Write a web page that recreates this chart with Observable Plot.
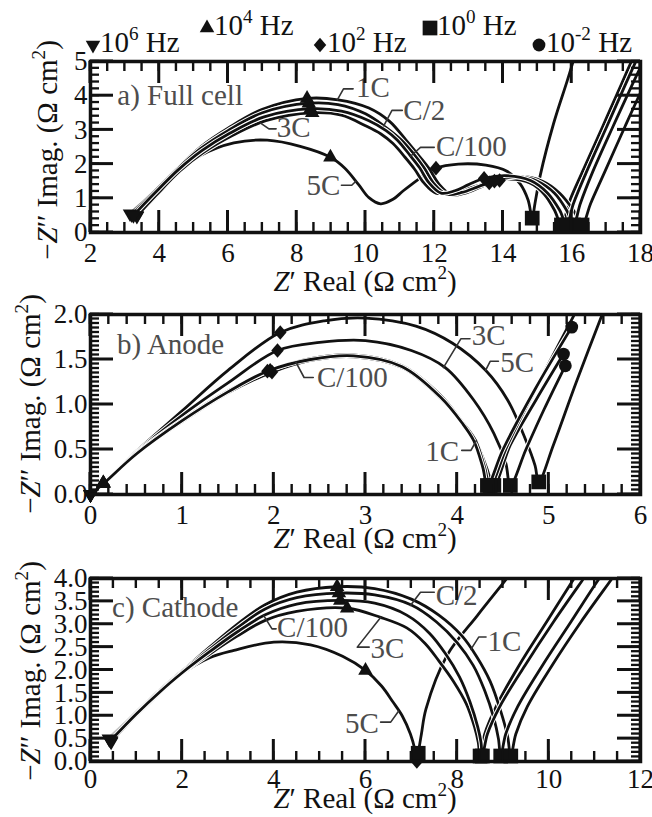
<!DOCTYPE html>
<html lang="en">
<head>
<meta charset="utf-8">
<title>Impedance spectra: full cell, anode, cathode</title>
<script src="https://cdn.jsdelivr.net/npm/d3@7"></script>
<script src="https://cdn.jsdelivr.net/npm/@observablehq/plot@0.6"></script>
<style>
  html, body { margin: 0; padding: 0; background: #fff; }
  #figure { position: relative; width: 652px; height: 817px; overflow: hidden; background: #fff;
            font-family: "Liberation Serif", "Times New Roman", Times, serif; color: #111; }
  #figure > svg { position: absolute; left: 0; }
  .txt { position: absolute; white-space: nowrap; line-height: 1; }
  .ytitle { transform: translate(-50%, -50%) rotate(-90deg); }
  .xtitle { transform: translateX(-50%); }
  .txt sup { font-size: 0.66em; line-height: 0; vertical-align: 0.62em; }
</style>
</head>
<body>
<div id="figure"></div>
<script>
// Each spectrum: [Z' real, -Z'' imag, frequency tag]; tag marks 1e6 / 1e4 / 1e2 / 1e0 / 1e-2 Hz points.

// ---- a) Full cell ----
const fullCell5C = [[3.35,0.5,"6"],[3.9,1.05],[4.6,1.8],[5.2,2.25],[6.17,2.62],[7.14,2.7],[8.1,2.52],[8.98,2.2,"4"],[9.4,1.88],[9.8,1.4],[10.1,1.02],[10.44,0.84],[10.8,0.97],[11.1,1.22],[11.6,1.6],[12.05,1.88,"2"],[12.7,2.0],[13.5,1.97],[14.1,1.8],[14.5,1.42],[14.73,0.95],[14.85,0.42,"0"],[14.93,0.85],[15.09,1.7],[15.47,3.18],[15.87,4.44],[16.07,5.1]];
const fullCell3C = [[3.35,0.48,"6"],[3.9,1.08],[4.6,1.8],[5.3,2.35],[6.1,2.82],[7.1,3.27],[8.45,3.5,"4"],[9.3,3.43],[10.0,3.12],[10.45,2.88],[10.8,2.6],[11.15,2.2],[11.43,1.85],[11.7,1.45],[12.05,1.15],[12.5,1.18],[13.0,1.3],[13.6,1.45,"2"],[14.2,1.56],[14.8,1.44],[15.2,1.12],[15.5,0.65],[15.7,0.22,"0"],[15.95,0.95],[16.3,1.75],[16.9,3.1],[17.45,4.35],[17.8,5.15]];
const fullCell1C = [[3.15,0.55,"6"],[3.8,1.15],[4.5,1.85],[5.2,2.5],[6.0,3.05],[7.0,3.6],[8.3,3.92,"4"],[9.2,3.88],[10.1,3.64],[10.7,3.25],[11.18,2.7],[11.55,2.25],[11.83,1.9],[12.15,1.4],[12.5,1.1],[12.9,1.15],[13.4,1.35],[13.9,1.52,"2"],[14.5,1.64],[15.15,1.5],[15.65,1.15],[16.05,0.65],[16.3,0.22,"0"],[16.55,0.85],[16.95,1.75],[17.55,3.1],[18.1,4.3],[18.5,5.1]];
const fullCellC2 = [[3.2,0.52,"6"],[3.8,1.13],[4.5,1.83],[5.2,2.45],[6.0,2.98],[7.0,3.5],[8.35,3.78,"4"],[9.2,3.74],[10.0,3.47],[10.6,3.07],[11.05,2.7],[11.4,2.3],[11.7,1.9],[12.0,1.42],[12.35,1.12],[12.8,1.17],[13.3,1.35],[13.75,1.5,"2"],[14.4,1.63],[15.0,1.5],[15.5,1.15],[15.85,0.65],[16.05,0.22,"0"],[16.25,0.85],[16.6,1.75],[17.2,3.1],[17.75,4.3],[18.15,5.15]];
const fullCellC100 = [[3.25,0.5,"6"],[3.85,1.13],[4.55,1.83],[5.25,2.4],[6.05,2.9],[7.05,3.38],[8.4,3.62,"4"],[9.3,3.55],[10.1,3.27],[10.6,2.98],[10.93,2.7],[11.3,2.25],[11.57,1.9],[11.85,1.45],[12.2,1.15],[12.6,1.22],[13.0,1.4],[13.45,1.58,"2"],[14.1,1.66],[14.8,1.52],[15.3,1.15],[15.65,0.65],[15.85,0.22,"0"],[16.05,0.85],[16.42,1.75],[17.02,3.1],[17.55,4.3],[17.93,5.15]];

// ---- b) Anode ----
const anode5C = [[0,0,"6"],[0.14,0.13,"4"],[0.5,0.48],[1.0,0.93],[1.5,1.38],[2.07,1.8,"2"],[2.55,1.93],[3.0,1.96],[3.55,1.87],[3.95,1.68],[4.31,1.38],[4.55,1.05],[4.75,0.6],[4.85,0.32],[4.89,0.14,"0"],[5.05,0.55],[5.3,1.25],[5.62,2.1]];
const anode3C = [[0,0,"6"],[0.14,0.13,"4"],[0.5,0.47],[1.0,0.88],[1.5,1.24],[2.04,1.6,"2"],[2.5,1.69],[3.0,1.71],[3.5,1.6],[3.87,1.41],[4.18,1.05],[4.4,0.68],[4.53,0.35],[4.58,0.1,"0"],[4.75,0.5],[4.95,0.95],[5.18,1.43,"-2"]];
const anode1C = [[0,0,"6"],[0.14,0.12,"4"],[0.5,0.45],[1.0,0.81],[1.5,1.13],[1.98,1.36,"2"],[2.4,1.49],[2.87,1.53],[3.4,1.41],[3.82,1.07],[4.07,0.78],[4.21,0.58],[4.32,0.3],[4.4,0.1,"0"],[4.58,0.55],[4.86,1.05],[5.16,1.56,"-2"]];
const anodeC2 = [[0,0,"6"],[0.14,0.12,"4"],[0.5,0.46],[1.0,0.83],[1.5,1.15],[1.96,1.38,"2"],[2.4,1.51],[2.87,1.55],[3.4,1.43],[3.82,1.1],[4.06,0.8],[4.2,0.6],[4.3,0.3],[4.36,0.1,"0"],[4.55,0.55],[4.92,1.3],[5.32,2.08]];
const anodeC100 = [[0,0,"6"],[0.14,0.12,"4"],[0.5,0.45],[1.0,0.82],[1.5,1.14],[1.93,1.37,"2"],[2.4,1.5],[2.87,1.54],[3.4,1.42],[3.82,1.08],[4.05,0.8],[4.18,0.6],[4.28,0.3],[4.33,0.1,"0"],[4.5,0.5],[4.85,1.17],[5.25,1.86,"-2"]];

// ---- c) Cathode ----
const cathode5C = [[0.45,0.45,"6"],[1.0,1.0],[1.5,1.48],[2.0,1.92],[2.6,2.27],[3.13,2.43],[4.0,2.61],[4.8,2.55],[5.5,2.3],[6.0,1.99,"4"],[6.35,1.65],[6.6,1.3],[6.8,1.0],[6.98,0.6],[7.08,0.25],[7.12,0.0,"2"],[7.15,0.18,"0"],[7.22,0.6],[7.32,1.15],[7.78,2.32],[8.44,3.19],[9.02,3.92],[9.12,4.05]];
const cathode3C = [[0.45,0.43,"6"],[1.0,1.02],[1.5,1.5],[2.0,1.93],[2.6,2.35],[3.2,2.74],[3.8,3.08],[4.5,3.28],[5.6,3.35,"4"],[6.33,3.15],[6.9,2.92],[7.3,2.58],[7.6,2.2],[7.92,1.75],[8.2,1.26],[8.38,0.75],[8.46,0.42],[8.5,0.12,"0"],[8.6,0.6],[8.85,1.2],[9.35,2.1],[9.95,3.05],[10.55,4.0],[10.68,4.2]];
const cathode1C = [[0.4,0.5,"6"],[1.0,1.08],[1.5,1.55],[2.0,1.98],[2.6,2.5],[3.2,3.0],[3.8,3.42],[4.5,3.7],[5.38,3.82,"4"],[6.2,3.78],[7.0,3.55],[7.6,3.2],[8.1,2.75],[8.42,2.3],[8.72,1.75],[8.95,1.1],[9.1,0.55],[9.17,0.12,"0"],[9.28,0.6],[9.53,1.2],[10.07,2.1],[10.7,3.05],[11.38,4.0],[11.52,4.2]];
const cathodeC2 = [[0.42,0.48,"6"],[1.0,1.06],[1.5,1.53],[2.0,1.96],[2.6,2.45],[3.2,2.92],[3.8,3.33],[4.5,3.58],[5.42,3.68,"4"],[6.2,3.64],[7.0,3.42],[7.55,3.05],[8.0,2.6],[8.35,2.1],[8.6,1.55],[8.8,0.95],[8.9,0.5],[8.95,0.12,"0"],[9.06,0.6],[9.32,1.2],[9.86,2.1],[10.48,3.05],[11.1,4.0],[11.25,4.2]];
const cathodeC100 = [[0.44,0.46,"6"],[1.0,1.04],[1.5,1.51],[2.0,1.94],[2.6,2.4],[3.2,2.83],[3.8,3.2],[4.5,3.44],[5.45,3.52,"4"],[6.2,3.46],[6.9,3.2],[7.4,2.8],[7.75,2.35],[8.05,1.85],[8.28,1.3],[8.45,0.75],[8.52,0.42],[8.55,0.12,"0"],[8.66,0.6],[8.93,1.2],[9.48,2.1],[10.1,3.05],[10.76,4.0],[10.9,4.2]];

// ---- annotations: C-rate labels and their leader lines ----
const fullCellNotes = [
  {text: "a) Full cell", x: 2.78, y: 3.99, anchor: "start"},
  {text: "1C", x: 9.72, y: 4.22, anchor: "start"},
  {text: "C/2", x: 11.1, y: 3.55, anchor: "start"},
  {text: "C/100", x: 12.05, y: 2.5, anchor: "start"},
  {text: "3C", x: 7.42, y: 3.05, anchor: "start"},
  {text: "5C", x: 9.27, y: 1.38, anchor: "end"}
];
const fullCellLeaders = [
  [[9.18,3.88],[9.36,4.2],[9.64,4.2]],
  [[10.53,3.12],[10.77,3.57],[11.07,3.57]],
  [[11.31,2.23],[11.6,2.49],[12.0,2.49]],
  [[6.95,3.2],[7.19,3.03],[7.4,3.03]],
  [[9.3,1.38],[9.6,1.38],[9.72,1.5]]
];
const anodeNotes = [
  {text: "b) Anode", x: 0.29, y: 1.66, anchor: "start"},
  {text: "C/100", x: 2.47, y: 1.3, anchor: "start"},
  {text: "3C", x: 4.16, y: 1.76, anchor: "start"},
  {text: "5C", x: 4.47, y: 1.46, anchor: "start"},
  {text: "1C", x: 4.02, y: 0.48, anchor: "end"}
];
const anodeLeaders = [
  [[2.24,1.47],[2.33,1.3],[2.43,1.3]],
  [[3.85,1.41],[4.04,1.73],[4.14,1.73]],
  [[4.31,1.38],[4.36,1.48],[4.45,1.48]],
  [[4.05,0.49],[4.15,0.49],[4.21,0.6]]
];
const cathodeNotes = [
  {text: "c) Cathode", x: 0.47, y: 3.37, anchor: "start"},
  {text: "C/2", x: 7.53, y: 3.62, anchor: "start"},
  {text: "1C", x: 8.66, y: 2.62, anchor: "start"},
  {text: "3C", x: 6.11, y: 2.47, anchor: "start"},
  {text: "C/100", x: 4.07, y: 2.92, anchor: "start"},
  {text: "5C", x: 6.29, y: 0.82, anchor: "end"}
];
const cathodeLeaders = [
  [[6.98,3.41],[7.2,3.7],[7.5,3.7]],
  [[8.3,2.45],[8.47,2.72],[8.63,2.72]],
  [[6.33,3.15],[5.82,2.5],[6.08,2.5]],
  [[3.78,3.19],[3.96,2.9],[4.05,2.9]],
  [[6.33,0.86],[6.55,0.86],[6.72,1.1]]
];

// ---- axis ticks ----
const fullCellXTicks = [2, 4, 6, 8, 10, 12, 14, 16, 18];
const fullCellYTicks = [0, 1, 2, 3, 4, 5];
const anodeXTicks = [0, 1, 2, 3, 4, 5, 6];
const anodeYTicks = [0, 0.5, 1.0, 1.5, 2.0];
const cathodeXTicks = [0, 2, 4, 6, 8, 10, 12];
const cathodeYTicks = [0, 0.5, 1.0, 1.5, 2.0, 2.5, 3.0, 3.5, 4.0];

// ---- frequency legend ----
const freqCodes = ["6", "4", "2", "0", "-2"];

const INK = "#111";
const NOTE = "#4d4d4d";
const FONT = "'Liberation Serif', 'Times New Roman', Times, serif";

// Marker shapes (drawn from an area, like d3 symbols)
const triangleUp = {draw(ctx, size) {
  const a = Math.sqrt(size * 4 / Math.sqrt(3)), h = a * Math.sqrt(3) / 2;
  ctx.moveTo(0, -2 * h / 3); ctx.lineTo(a / 2, h / 3); ctx.lineTo(-a / 2, h / 3); ctx.closePath();
}};
const triangleDown = {draw(ctx, size) {
  const a = Math.sqrt(size * 4 / Math.sqrt(3)), h = a * Math.sqrt(3) / 2;
  ctx.moveTo(0, 2 * h / 3); ctx.lineTo(a / 2, -h / 3); ctx.lineTo(-a / 2, -h / 3); ctx.closePath();
}};
const rhombus = {draw(ctx, size) {
  const hh = Math.sqrt(size / (2 * 0.85)), hw = 0.85 * hh;
  ctx.moveTo(0, -hh); ctx.lineTo(hw, 0); ctx.lineTo(0, hh); ctx.lineTo(-hw, 0); ctx.closePath();
}};
const markerStyle = {
  "6": {symbol: triangleDown, r: 5.4},
  "4": {symbol: triangleUp, r: 5.4},
  "2": {symbol: rhombus, r: 5.4},
  "0": {symbol: d3.symbolSquare, r: 8.3},
  "-2": {symbol: d3.symbolCircle, r: 6.4}
};

const fig = document.getElementById("figure");
const LEFT = 90, RIGHT = 12, WIDTH = 652;

function nyquistPanel(cfg) {
  const X = d => d[0], Y = d => d[1];
  const marks = [];

  // spectra: a thin white casing keeps overlapping curves distinguishable
  for (const s of cfg.series) {
    marks.push(Plot.line(s, {x: X, y: Y, curve: "catmull-rom", stroke: "#fff", strokeWidth: 4.8, clip: true}));
    marks.push(Plot.line(s, {x: X, y: Y, curve: "catmull-rom", stroke: INK, strokeWidth: 2.8, clip: true}));
  }

  // leader lines and C-rate labels
  cfg.leaders.forEach(l => marks.push(Plot.line(l, {x: X, y: Y, stroke: "#333", strokeWidth: 1.6})));
  for (const anchor of ["start", "end"]) {
    marks.push(Plot.text(cfg.notes.filter(n => n.anchor === anchor), {x: "x", y: "y", text: "text",
      textAnchor: anchor, fill: NOTE, fontSize: 29, lineAnchor: "middle"}));
  }

  // frequency markers
  const tagged = cfg.series.flatMap(s => s.filter(p => p[2] !== undefined));
  for (const code of freqCodes) {
    const pts = tagged.filter(p => p[2] === code);
    if (pts.length) marks.push(Plot.dot(pts, {x: X, y: Y, symbol: markerStyle[code].symbol,
      r: markerStyle[code].r, fill: INK, stroke: "none"}));
  }

  marks.push(Plot.frame({stroke: INK, strokeWidth: 3.5}));
  marks.push(Plot.axisX({ticks: cfg.xMajor, anchor: "bottom", tickSize: 0, tickPadding: cfg.xPad,
    tickFormat: d => String(d), fontSize: 27, label: null}));
  marks.push(Plot.axisY({ticks: cfg.yMajor, anchor: "left", tickSize: 0, tickPadding: 3,
    tickFormat: cfg.yFormat, fontSize: 27, label: null}));

  const svg = Plot.plot({
    width: WIDTH, height: cfg.height,
    marginLeft: LEFT, marginRight: RIGHT, marginTop: cfg.marginTop, marginBottom: cfg.marginBottom,
    x: {domain: cfg.xDomain}, y: {domain: cfg.yDomain},
    style: {fontFamily: FONT, fontSize: "27px", background: "transparent", overflow: "visible", color: INK},
    marks
  });
  svg.style.top = cfg.top + "px";
  fig.appendChild(svg);

  // inward comb ticks on all four edges, placed with the plot's own x and y scales
  const sx = svg.scale("x").apply, sy = svg.scale("y").apply;
  const [xa, xb] = cfg.xDomain.map(sx), [ya, yb] = cfg.yDomain.map(sy);   // ya = bottom, yb = top
  const g = d3.select(svg).append("g").attr("aria-label", "comb ticks").attr("fill", INK);
  const comb = (vals, len, w, axis) => {
    for (const v of vals) {
      if (axis === "x") {
        const p = sx(v) - w / 2;
        g.append("rect").attr("x", p).attr("width", w).attr("y", ya - len).attr("height", len);
        g.append("rect").attr("x", p).attr("width", w).attr("y", yb).attr("height", len);
      } else {
        const p = sy(v) - w / 2;
        g.append("rect").attr("y", p).attr("height", w).attr("x", xa).attr("width", len);
        g.append("rect").attr("y", p).attr("height", w).attr("x", xb - len).attr("width", len);
      }
    }
  };
  comb(cfg.xMinor, 10, 2.4, "x"); comb(cfg.xMajor, 22, 3, "x");
  comb(cfg.yMinor, 9, 2.3, "y");  comb(cfg.yMajor, 23, 3, "y");
}

const step = (a, b, s) => d3.range(Math.round((b - a) / s) + 1).map(i => +(a + i * s).toFixed(3));

nyquistPanel({
  series: [fullCell5C, fullCell3C, fullCell1C, fullCellC2, fullCellC100],
  notes: fullCellNotes, leaders: fullCellLeaders,
  xDomain: [2, 18], yDomain: [0, 5],
  xMajor: fullCellXTicks, xMinor: step(2, 18, 0.5),
  yMajor: fullCellYTicks, yMinor: step(0, 5, 0.2), yFormat: d => String(d),
  top: 0, height: 300, marginTop: 61, marginBottom: 68, xPad: 10
});
nyquistPanel({
  series: [anode5C, anode3C, anode1C, anodeC2, anodeC100],
  notes: anodeNotes, leaders: anodeLeaders,
  xDomain: [0, 6], yDomain: [0, 2],
  xMajor: anodeXTicks, xMinor: step(0, 6, 0.2),
  yMajor: anodeYTicks, yMinor: step(0, 2, 0.05), yFormat: d3.format(".1f"),
  top: 300, height: 260, marginTop: 14, marginBottom: 66, xPad: 10
});
nyquistPanel({
  series: [cathode5C, cathode3C, cathode1C, cathodeC2, cathodeC100],
  notes: cathodeNotes, leaders: cathodeLeaders,
  xDomain: [0, 12], yDomain: [0, 4],
  xMajor: cathodeXTicks, xMinor: step(0, 12, 0.5),
  yMajor: cathodeYTicks, yMinor: step(0, 4, 0.1), yFormat: d3.format(".1f"),
  top: 560, height: 257, marginTop: 18, marginBottom: 56, xPad: 7
});

// ---- axis titles ----
function addText(html, left, top, size, cls) {
  const el = document.createElement("div");
  el.className = "txt " + (cls || "");
  el.style.left = left + "px";
  el.style.top = top + "px";
  el.style.fontSize = size + "px";
  el.innerHTML = html;
  fig.appendChild(el);
}
const yTitle = "\u2212<i>Z</i>\u2032\u2032 Imag. (\u03A9 cm<sup>2</sup>)";
const xTitle = "<i>Z</i>\u2032 Real (\u03A9 cm<sup>2</sup>)";
const TITLE = 29, ASC = 0.8375;
[[47, 150], [30, 404], [30, 671]].forEach(([cx, cy]) => addText(yTitle, cx, cy, TITLE, "ytitle"));
[291, 548, 808].forEach(base => addText(xTitle, 365, base - ASC * TITLE, TITLE, "xtitle"));

// ---- frequency legend across the top ----
const LEG = 29;
const legendSpots = [[86, 52], [200, 35], [313, 52], [423, 35], [532, 52]];
freqCodes.forEach((code, i) => {
  const [left, base] = legendSpots[i];
  const m = markerStyle[code];
  const s = d3.create("svg").attr("width", 24).attr("height", 24)
    .style("position", "absolute").style("left", (left + 7 - 12) + "px").style("top", (base - 7 - 12) + "px");
  s.append("path").attr("transform", "translate(12,12)")
    .attr("d", d3.symbol(m.symbol, Math.PI * m.r * m.r)()).attr("fill", INK);
  fig.appendChild(s.node());
  addText(`10<sup>${code}</sup> Hz`, left + 14, base - ASC * LEG, LEG, "");
});
</script>
</body>
</html>
